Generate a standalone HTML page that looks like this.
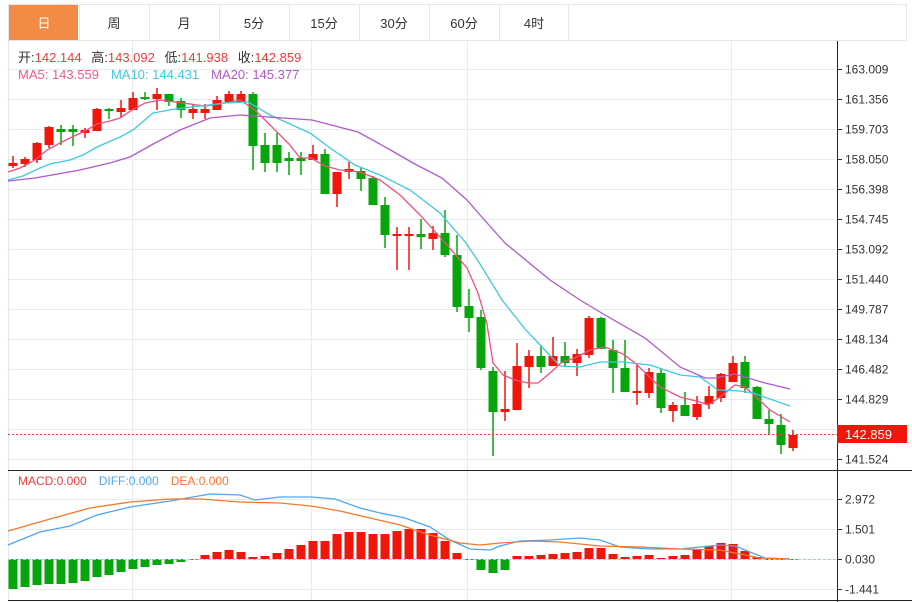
<!DOCTYPE html>
<html><head><meta charset="utf-8"><style>
body{margin:0;background:#fff;width:912px;height:602px;overflow:hidden;font-family:"Liberation Sans","Noto Sans CJK SC",sans-serif}
svg{position:absolute;left:0;top:0}
</style></head><body>
<svg id="s" width="912" height="602" xmlns="http://www.w3.org/2000/svg" font-family="Liberation Sans, Noto Sans CJK SC, sans-serif"></svg>
<script>
const s=document.getElementById('s');let h='';
// tabs
h+='<rect x="8.5" y="4.5" width="898" height="36" fill="#fff" stroke="#e3e6ea"/>';
h+='<rect x="9" y="5" width="69" height="35" fill="#f28c44"/>';
const tabs=['日','周','月','5分','15分','30分','60分','4时'];
tabs.forEach((t,i)=>{const x=9+70*i;if(i>0)h+=`<line x1="${x+0.5}" y1="5" x2="${x+0.5}" y2="40" stroke="#e3e6ea"/>`;
h+=`<text x="${x+35}" y="28" font-size="13" text-anchor="middle" fill="${i==0?'#fff':'#333'}">${t}</text>`});
h+='<line x1="568.5" y1="5" x2="568.5" y2="40" stroke="#e3e6ea"/>';
// grid
const py=[163.009,161.356,159.703,158.050,156.398,154.745,153.092,151.440,149.787,148.134,146.482,144.829,143.176,141.524];
py.forEach((p,i)=>{const y=69+30*i;h+=`<line x1="8" y1="${y+.5}" x2="837" y2="${y+.5}" stroke="#e6ebef"/><line x1="837" y1="${y+.5}" x2="842" y2="${y+.5}" stroke="#333"/><text x="845" y="${y+4.5}" font-size="12" fill="#333">${p.toFixed(3)}</text>`});
[499,529,559,589].forEach((y,i)=>{h+=`<line x1="8" y1="${y+.5}" x2="837" y2="${y+.5}" stroke="#e6ebef"/><line x1="837" y1="${y+.5}" x2="842" y2="${y+.5}" stroke="#333"/><text x="845" y="${y+4.5}" font-size="12" fill="#333">${['2.972','1.501','0.030','-1.441'][i]}</text>`});
[132,311,467,731].forEach(x=>{h+=`<line x1="${x+.5}" y1="41" x2="${x+.5}" y2="600" stroke="#e6ebef"/>`});
h+='<line x1="8.5" y1="41" x2="8.5" y2="600" stroke="#e3e6ea"/>';
h+='<line x1="8" y1="470.5" x2="912" y2="470.5" stroke="#222"/><line x1="8" y1="600.5" x2="912" y2="600.5" stroke="#222"/>';
h+='<line x1="837.5" y1="41" x2="837.5" y2="602" stroke="#222"/>';
// candles [top,bottom,hi,lo,red]
const C=[[163,166,156,168,1],[159,164,157,167,1],[143,160,142,163,1],[127,145,126,148,1],[129,132,125,145,0],[129,132,125,146,0],[130,133,128,138,1],[109,131,108,131,1],[109,111,108,119,0],[108,112,100,118,1],[98,110,92,110,1],[97,99,92,100,0],[94,99,88,110,1],[94,102,94,106,0],[101,110,98,118,0],[109,113,104,119,1],[109,113,104,119,1],[100,110,96,110,1],[94,102,91,102,1],[94,102,91,102,1],[94,146,92,170,0],[145,163,133,172,0],[145,163,133,172,0],[158,161,152,175,0],[158,161,152,175,0],[154,160,145,160,1],[154,194,149,194,0],[172,194,172,207,1],[169,172,162,179,1],[171,179,167,191,0],[178,205,176,205,0],[205,235,197,248,0],[234,236,227,270,1],[234,236,227,270,1],[234,237,219,249,0],[233,239,226,250,1],[233,255,210,257,0],[255,307,235,312,0],[306,318,289,332,0],[317,368,310,370,0],[371,412,367,456,0],[409,412,371,421,1],[366,410,343,410,1],[356,367,350,388,1],[356,367,345,373,0],[356,366,337,366,1],[356,363,342,367,0],[354,363,349,376,1],[318,355,316,358,1],[318,349,317,349,0],[350,368,340,393,0],[368,392,340,392,0],[391,393,363,405,1],[372,393,368,398,1],[373,408,369,413,0],[405,411,402,422,1],[405,416,392,416,0],[404,417,396,420,1],[396,404,386,409,1],[374,398,373,402,1],[363,382,356,382,1],[362,388,356,393,0],[387,419,386,419,0],[419,424,410,434,0],[425,445,414,454,0],[435,448,430,451,1]];
const R='#f2150a',G='#06a50b';
C.forEach((c,i)=>{const x=13+12*i,col=c[4]?R:G;h+=`<line x1="${x}" y1="${c[2]}" x2="${x}" y2="${c[3]}" stroke="${col}" stroke-width="1.5"/><rect x="${x-4.5}" y="${c[0]}" width="9" height="${Math.max(2,c[1]-c[0])}" fill="${col}"/>`});
const pl=(pts,col)=>{h+=`<polyline fill="none" stroke="${col}" stroke-width="1.3" points="${pts.map(p=>p.join(',')).join(' ')}"/>`};
pl([[8,172],[20,168],[35,160],[47,150],[60,143],[70,138],[85,131],[97,124],[110,121],[120,118],[132,110],[145,103],[160,100],[175,102],[190,104],[205,106],[220,104],[240,100],[255,110],[270,125],[290,145],[300,158],[311,158],[325,166],[340,170],[360,172],[380,180],[400,195],[420,215],[440,237],[467,268],[478,293],[487,324],[493,363],[503,375],[515,380],[528,383],[538,383],[550,373],[562,362],[575,358],[590,350],[605,347],[623,354],[635,363],[660,387],[680,397],[700,402],[708,405],[720,397],[735,385],[745,387],[755,396],[770,410],[790,422]],'#ef4f80');
pl([[8,180],[23,176],[40,168],[50,164],[70,160],[83,155],[97,147],[120,137],[133,130],[153,113],[175,109],[200,106],[225,103],[248,102],[270,115],[310,133],[330,148],[355,165],[380,175],[410,190],[440,213],[466,243],[480,264],[502,300],[525,329],[540,345],[560,366],[580,367],[600,362],[623,362],[650,365],[680,375],[700,377],[718,390],[740,391],[753,393],[790,406]],'#3ec9de');
pl([[8,181],[35,178],[80,170],[110,163],[130,157],[155,143],[180,130],[210,118],[240,115],[312,120],[358,132],[387,148],[413,163],[442,178],[467,200],[480,215],[505,243],[550,280],[580,300],[605,315],[645,338],[680,367],[705,378],[715,378],[735,374],[765,383],[790,389]],'#b158cc');
// current price
h+='<line x1="8" y1="434.5" x2="837" y2="434.5" stroke="#f33" stroke-dasharray="2,2"/>';
h+='<rect x="837" y="425" width="70" height="18" fill="#f2150a"/><text x="845" y="439" font-size="13" fill="#fff">142.859</text>';
// macd hist
const M=[589,587,585,584,584,583,581,577,575,572,569,567,565,564,562,560,555,552,550,552,557,556,553,549,545,541,541,534,532,532,534,534,531,529,529,533,541,553,560,570,573,570,556,556,555,554,553,552,548,548,554,557,556,555,558,556,555,549,546,543,544,551,557,559,559,559];
M.forEach((y,i)=>{const x=13+12*i;const top=Math.min(y,559),ht=Math.max(1,Math.abs(y-559));h+=`<rect x="${x-4.5}" y="${top}" width="9" height="${ht}" fill="${y<559?R:G}"/>`});
h+='<line x1="8" y1="559.5" x2="837" y2="559.5" stroke="#9cd0ee" stroke-dasharray="3,2"/>';
pl([[8,545],[40,532],[70,526],[97,515],[130,507],[170,501],[210,494],[240,495],[255,500],[280,497],[311,497],[335,499],[360,508],[380,513],[405,518],[430,527],[450,540],[470,549],[490,550],[500,546],[520,541],[550,540],[580,538],[600,540],[620,547],[650,549],[680,549],[700,547],[720,545],[735,546],[750,552],[765,558],[790,559]],'#4fa6ef');
pl([[8,531],[50,519],[90,508],[130,502],[170,499],[200,499],[240,502],[280,503],[311,506],[340,511],[370,518],[400,525],[430,535],[460,543],[480,545],[500,543],[530,541],[560,542],[600,546],[640,547],[680,549],[720,550],[760,558],[790,559]],'#f5782a');
// labels
h+='<text x="18" y="62" font-size="13"><tspan fill="#333">开:</tspan><tspan fill="#ef3b3b">142.144 </tspan><tspan fill="#333" dx="6">高:</tspan><tspan fill="#ef3b3b">143.092 </tspan><tspan fill="#333" dx="6">低:</tspan><tspan fill="#ef3b3b">141.938 </tspan><tspan fill="#333" dx="6">收:</tspan><tspan fill="#ef3b3b">142.859</tspan></text>';
h+='<text x="18" y="79" font-size="13"><tspan fill="#ef5b8a">MA5: 143.559</tspan><tspan fill="#3ec9de" dx="12">MA10: 144.431</tspan><tspan fill="#b158cc" dx="12">MA20: 145.377</tspan></text>';
h+='<text x="18" y="485" font-size="12"><tspan fill="#ef3b3b">MACD:0.000</tspan><tspan fill="#4fa6ef" dx="12">DIFF:0.000</tspan><tspan fill="#f5782a" dx="12">DEA:0.000</tspan></text>';
s.innerHTML=h;
</script>
</body></html>
